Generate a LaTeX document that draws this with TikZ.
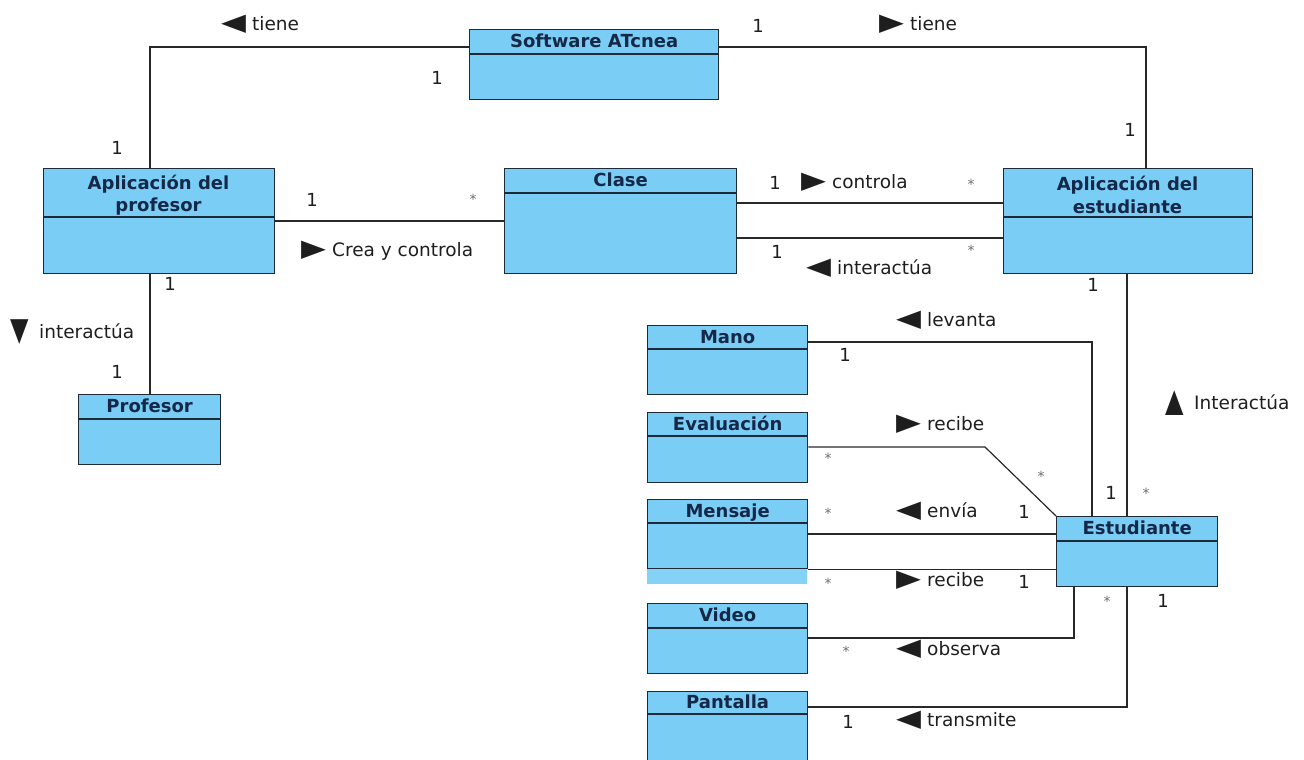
\documentclass[tikz,border=0pt]{standalone}
\usepackage{fontspec}
\usepackage{graphicx}
\setmainfont{DejaVu Sans}
\usetikzlibrary{calc}
\definecolor{clsfill}{RGB}{122,205,245}
\definecolor{stripfill}{RGB}{132,211,246}
\definecolor{clsborder}{RGB}{30,42,56}
\definecolor{ttlcol}{RGB}{22,40,72}
\definecolor{linecol}{RGB}{40,40,40}
\definecolor{lblcol}{RGB}{30,30,30}
\definecolor{starcol}{RGB}{110,110,110}
\newcommand\trih[1]{\makebox[31pt][l]{\scalebox{1.35}[1]{\fontsize{24}{24}\selectfont #1}}}
\newcommand\triv[1]{\makebox[29pt][l]{\raisebox{-2pt}{\scalebox{1}[1.35]{\fontsize{24}{24}\selectfont #1}}}}
% name, x, y, w, h, header h, title
\newcommand\umlclass[7]{%
  \node[cls, minimum width=#4pt, minimum height=#5pt] (#1) at (#2,#3) {};
  \draw[sepline] ([yshift=-#6pt]#1.north west) -- ([yshift=-#6pt]#1.north east);
  \node[ttl] (#1-t) at ($(#1.north)+(0,#6/2+2.5)$) {#7};
}
\begin{document}
\begin{tikzpicture}[x=1pt,y=-1pt,
  cls/.style={draw=clsborder, fill=clsfill, line width=1.3pt, inner sep=0pt, anchor=north west},
  sepline/.style={draw=clsborder, line width=1.3pt},
  ttl/.style={font=\fontsize{18}{22.5}\selectfont\bfseries, text=ttlcol, align=center, inner sep=0pt, text height=0.78em, text depth=0.05em},
  conn/.style={draw=linecol, line width=1.2pt},
  lbl/.style={font=\fontsize{18.5}{22}\selectfont, text=lblcol, inner sep=0pt, anchor=base west},
  mult/.style={font=\fontsize{18}{21}\selectfont, text=lblcol, inner sep=0pt, anchor=base},
  star/.style={font=\fontsize{14}{15}\selectfont, text=starcol, inner sep=0pt, anchor=base}]
\useasboundingbox (0,0) rectangle (1304,760);

% classes
\umlclass{soft}{469}{29}{249}{70}{25}{Software ATcnea}
\umlclass{aprof}{43}{168}{231}{105}{49}{}
\node[ttl, text height=, text depth=] (aprof-tt) at (158.5,195) {Aplicación del\\profesor};
\umlclass{clase}{504}{168}{232}{105}{25}{Clase}
\umlclass{aest}{1003}{168}{249}{105}{49}{}
\node[ttl, text height=, text depth=] (aest-tt) at (1127.5,195) {Aplicación del\\estudiante};
\umlclass{prof}{78}{394}{142}{70}{25}{Profesor}
\umlclass{mano}{647}{325}{160}{69}{24}{Mano}
\umlclass{eval}{647}{412}{160}{70}{24}{Evaluación}
\fill[stripfill] (647,568) rectangle (807,584);
\umlclass{msg}{647}{499}{160}{69}{24}{Mensaje}
\umlclass{video}{647}{603}{160}{70}{25}{Video}
\umlclass{pant}{647}{691}{160}{69}{23}{Pantalla}
\umlclass{est}{1056}{516}{161}{70}{25}{Estudiante}

% connectors
\draw[conn] (150,0 |- aprof.north) |- (soft.west |- 0,47);
\draw[conn] (soft.east |- 0,47) -| (1146,0 |- aest.north);
\draw[conn] (aprof.east |- 0,221) -- (clase.west |- 0,221);
\draw[conn] (clase.east |- 0,203) -- (aest.west |- 0,203);
\draw[conn] (clase.east |- 0,238) -- (aest.west |- 0,238);
\draw[conn] (150,0 |- aprof.south) -- (150,0 |- prof.north);
\draw[conn] (1127,0 |- aest.south) -- (1127,0 |- est.north);
\draw[conn] (mano.east |- 0,342) -| (1092,0 |- est.north);
\coordinate (evbend) at (985,447);
\draw[conn] (eval.east |- evbend) -- (evbend) -- (est.north west);
\draw[conn] (msg.east |- 0,534) -- (est.west |- 0,534);
\draw[conn] (msg.south east) -- (est.west |- msg.south east);
\draw[conn] (video.east |- 0,638) -| (1074,0 |- est.south);
\draw[conn] (pant.east |- 0,707) -| (1127,0 |- est.south);

% association labels
\node[lbl] (l1) at (221,30.5) {\trih{◀}tiene};
\node[lbl] (l2) at (879,30.5) {\trih{▶}tiene};
\node[lbl] (l3) at (301,256.5) {\trih{▶}Crea y controla};
\node[lbl] (l4) at (801,188.5) {\trih{▶}controla};
\node[lbl] (l5) at (806,274.5) {\trih{◀}interactúa};
\node[lbl] (l6) at (10,338.5) {\triv{▼}interactúa};
\node[lbl] (l7) at (896,326.5) {\trih{◀}levanta};
\node[lbl] (l8) at (896,430.5) {\trih{▶}recibe};
\node[lbl] (l9) at (896,517.5) {\trih{◀}envía};
\node[lbl] (l10) at (896,586.5) {\trih{▶}recibe};
\node[lbl] (l11) at (1165,409.5) {\triv{▲}Interactúa};
\node[lbl] (l12) at (896,655.5) {\trih{◀}observa};
\node[lbl] (l13) at (896,726.5) {\trih{◀}transmite};

% multiplicities
\node[mult] (m1) at (437,84.5) {1};
\node[mult] (m2) at (117,154.5) {1};
\node[mult] (m3) at (312,206.5) {1};
\node[star] (m4) at (473,204) {*};
\node[mult] (m5) at (758,32.5) {1};
\node[mult] (m6) at (1130,136.5) {1};
\node[mult] (m7) at (775,189.5) {1};
\node[star] (m8) at (971,189) {*};
\node[mult] (m9) at (777,258.5) {1};
\node[star] (m10) at (971,255) {*};
\node[mult] (m11) at (1093,291.5) {1};
\node[mult] (m12) at (170,290.5) {1};
\node[mult] (m13) at (117,378.5) {1};
\node[mult] (m14) at (845,361.5) {1};
\node[star] (m15) at (828,463) {*};
\node[star] (m16) at (1041,481) {*};
\node[star] (m17) at (828,518) {*};
\node[mult] (m18) at (1024,518.5) {1};
\node[star] (m19) at (828,588) {*};
\node[mult] (m20) at (1024,588.5) {1};
\node[mult] (m21) at (1111,499.5) {1};
\node[star] (m22) at (1146,498) {*};
\node[star] (m23) at (1107,606) {*};
\node[mult] (m24) at (1163,607.5) {1};
\node[star] (m25) at (846,656) {*};
\node[mult] (m26) at (848,728.5) {1};
\end{tikzpicture}
\end{document}
